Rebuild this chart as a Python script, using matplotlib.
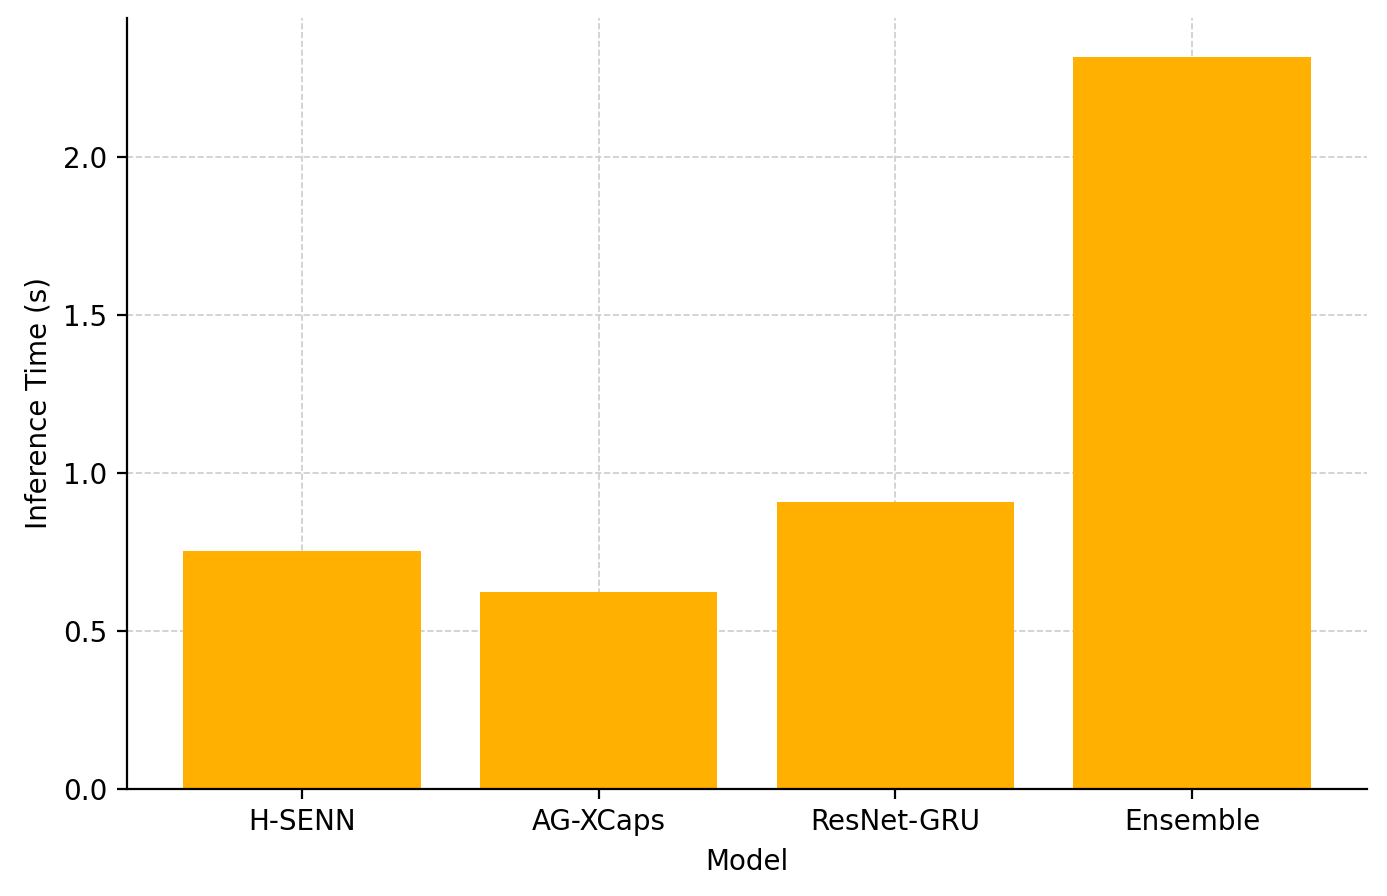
import matplotlib.pyplot as plt

models = ['H-SENN', 'AG-XCaps', 'ResNet-GRU', 'Ensemble']
inference_time = [0.752, 0.622, 0.907, 2.316]

fig, ax = plt.subplots(figsize=(6.935, 4.48), dpi=200)
fig.subplots_adjust(left=0.0916, right=0.9856, top=0.98, bottom=0.1194)

ax.bar(models, inference_time, color='#FFB000', width=0.8, zorder=2)
ax.set_xlabel('Model')
ax.set_ylabel('Inference Time (s)')
ax.grid(True, linestyle='--', color='#cccccc', linewidth=0.6, zorder=0)
ax.spines['top'].set_visible(False)
ax.spines['right'].set_visible(False)
ax.set_ylim(0, 2.44)

plt.savefig('out.png')
